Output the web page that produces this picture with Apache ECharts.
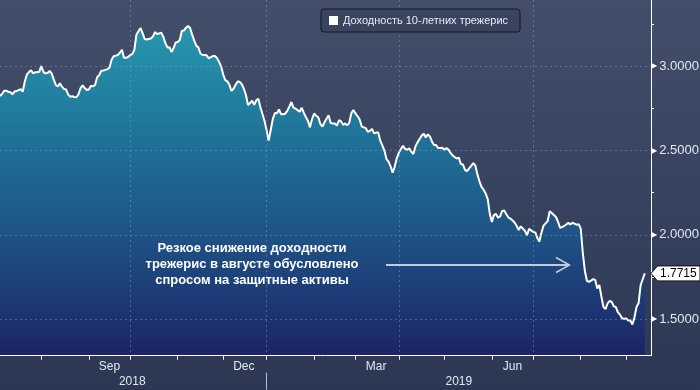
<!DOCTYPE html>
<html><head><meta charset="utf-8">
<script src="https://cdn.jsdelivr.net/npm/echarts@6/dist/echarts.min.js"></script>
<style>html,body{margin:0;padding:0;background:#333e5b;}#c{width:700px;height:390px;}</style>
</head><body><div id="c"></div>
<script>
const seriesName = 'Доходность 10-летних трежерис';
const startDate = '2018-07-04';
const endDate = '2019-09-18';
const yields = [
2.824,2.836,2.855,2.855,2.849,2.846,2.834,2.850,2.853,2.859,
2.865,2.849,2.910,2.951,2.966,2.976,2.959,2.964,2.965,2.968,
3.002,2.967,2.958,2.960,2.972,2.958,2.922,2.889,2.881,2.899,
2.879,2.865,2.862,2.832,2.820,2.822,2.818,2.817,2.834,2.871,
2.887,2.871,2.859,2.862,2.884,2.881,2.889,2.935,2.948,2.973,
2.975,2.979,2.983,2.993,3.039,3.060,3.063,3.067,3.080,3.098,
3.051,3.051,3.055,3.067,3.072,3.097,3.187,3.208,3.227,3.197,
3.162,3.159,3.162,3.165,3.177,3.203,3.192,3.195,3.199,3.176,
3.138,3.112,3.113,3.085,3.109,3.141,3.144,3.156,3.211,3.212,
3.229,3.239,3.227,3.186,3.152,3.121,3.112,3.076,3.067,3.067,
3.065,3.047,3.054,3.061,3.061,3.049,3.026,2.999,2.951,2.918,
2.911,2.890,2.854,2.867,2.890,2.910,2.908,2.894,2.867,2.830,
2.770,2.782,2.796,2.772,2.798,2.808,2.757,2.717,2.676,2.622,
2.559,2.622,2.687,2.723,2.721,2.744,2.715,2.716,2.719,2.736,
2.761,2.788,2.755,2.749,2.740,2.730,2.754,2.724,2.699,2.676,
2.638,2.687,2.720,2.707,2.698,2.658,2.642,2.668,2.689,2.710,
2.664,2.660,2.661,2.648,2.680,2.674,2.653,2.661,2.650,2.665,
2.722,2.741,2.720,2.705,2.685,2.644,2.638,2.633,2.612,2.617,
2.629,2.602,2.607,2.608,2.559,2.531,2.500,2.450,2.434,2.406,
2.369,2.406,2.456,2.487,2.509,2.529,2.510,2.505,2.513,2.494,
2.480,2.524,2.548,2.569,2.588,2.601,2.578,2.596,2.584,2.554,
2.533,2.533,2.515,2.515,2.517,2.505,2.515,2.506,2.486,2.472,
2.461,2.453,2.458,2.420,2.418,2.385,2.379,2.394,2.410,2.425,
2.412,2.359,2.318,2.285,2.268,2.245,2.212,2.125,2.076,2.119,
2.124,2.102,2.110,2.142,2.145,2.122,2.103,2.097,2.085,2.073,
2.053,2.029,2.051,2.037,2.024,1.998,2.036,2.027,2.018,2.015,
1.982,1.960,2.014,2.055,2.068,2.082,2.141,2.130,2.118,2.106,
2.078,2.042,2.046,2.053,2.062,2.072,2.062,2.072,2.067,2.059,
2.064,2.038,1.893,1.786,1.727,1.722,1.729,1.738,1.733,1.682,
1.703,1.634,1.572,1.560,1.594,1.608,1.602,1.577,1.572,1.541,
1.527,1.506,1.502,1.504,1.492,1.492,1.469,1.510,1.572,1.596,
1.703,1.737,1.7715
];
const monthTickLabels = ['Sep','Dec','Mar','Jun'];
const monthNames = ['Jan','Feb','Mar','Apr','May','Jun','Jul','Aug','Sep','Oct','Nov','Dec'];
const yearTickLabels = ['2018','2019'];
const quarterMonths = [0,3,6,9];
const yAxisMin = 1.2835, yAxisMax = 3.3932;
const yTickMin = 1.5, yTickMax = 3.5, yTickStep = 0.5;
const annotationLines = ['Резкое снижение доходности','трежерис в августе обусловлено','спросом на защитные активы'];

// weekday calendar
function weekdays(a, b) {
  const out = [];
  let d = new Date(a + 'T00:00:00Z');
  const e = new Date(b + 'T00:00:00Z');
  while (d <= e) {
    const w = d.getUTCDay();
    if (w !== 0 && w !== 6) out.push(d.toISOString().slice(0, 10));
    d = new Date(d.getTime() + 86400000);
  }
  return out;
}
const dates = weekdays(startDate, endDate);
const mon = s => +s.slice(5, 7) - 1, yr = s => s.slice(0, 4);
const monthStart = new Set(), quarterStart = new Set(), yearStart = new Set();
const monthLabelAt = {}, yearLabelAt = {};
const starts = [];
for (let i = 1; i < dates.length; i++) {
  if (mon(dates[i]) !== mon(dates[i - 1])) {
    monthStart.add(i); starts.push(i);
    if (quarterMonths.includes(mon(dates[i]))) quarterStart.add(i);
    if (yr(dates[i]) !== yr(dates[i - 1])) yearStart.add(i);
  }
}
for (let j = 0; j < starts.length - 1; j++) {
  const a = starts[j], b = starts[j + 1];
  const name = monthNames[mon(dates[a])];
  if (monthTickLabels.includes(name)) monthLabelAt[Math.floor((a + b) / 2)] = name;
}
const yearRange = {};
dates.forEach((d, i) => { const y = yr(d); if (!yearRange[y]) yearRange[y] = [i, i]; yearRange[y][1] = i; });
yearTickLabels.forEach(y => { const r = yearRange[y]; if (r) yearLabelAt[Math.floor((r[0] + r[1] + 1) / 2)] = y; });

const W = 700, H = 390;
const gridA = { left: 0, right: 49, top: 0, bottom: 34.3 };
const plotH = H - gridA.top - gridA.bottom;
const k = plotH / (yAxisMax - yAxisMin);
const gridB = { left: 0, right: 49, top: gridA.top - (yTickMax - yAxisMax) * k, bottom: H - (gridA.top + (yAxisMax - yTickMin) * k) };

const gridColor = 'rgba(140,160,205,0.45)';
const labelColor = '#e4e8f0';
const chart = echarts.init(document.getElementById('c'), null, { renderer: 'canvas' });
chart.setOption({
  animation: false,
  backgroundColor: new echarts.graphic.LinearGradient(0, 0, 0, 1, [
    { offset: 0, color: '#434e6b' }, { offset: 1, color: '#2b3753' }]),
  textStyle: { fontFamily: 'Liberation Sans' },
  legend: {
    data: [seriesName], left: 321, top: 9, icon: 'rect', itemWidth: 9, itemHeight: 9,
    padding: [6, 12, 6, 8], backgroundColor: '#39445f', borderColor: '#12161f', borderWidth: 1, borderRadius: 3,
    textStyle: { color: '#e8ebf2', fontSize: 11, fontFamily: 'Liberation Sans' }
  },
  grid: [Object.assign({ outerBoundsMode: 'none', containLabel: false }, gridA),
         Object.assign({ outerBoundsMode: 'none', containLabel: false }, gridB)],
  xAxis: [
    { gridIndex: 0, type: 'category', data: dates, boundaryGap: false, z: 3,
      axisLine: { show: true, onZero: false, lineStyle: { color: '#ffffff', width: 1 } },
      axisTick: { show: true, interval: (i) => monthStart.has(i), length: 4, lineStyle: { color: '#ffffff' } },
      axisLabel: { interval: (i) => (i in monthLabelAt), formatter: (v, i) => monthLabelAt[i] || '',
        color: labelColor, fontSize: 12, margin: 5 },
      splitLine: { show: true, interval: (i) => quarterStart.has(i), lineStyle: { color: gridColor, width: 1, type: [2, 3] } } },
    { gridIndex: 0, type: 'category', data: dates, boundaryGap: false, position: 'bottom', offset: 17,
      axisLine: { show: false, onZero: false },
      axisTick: { show: true, interval: (i) => yearStart.has(i), length: 17, lineStyle: { color: '#b7bfd0' } },
      axisLabel: { interval: (i) => (i in yearLabelAt), formatter: (v, i) => yearLabelAt[i] || '',
        color: labelColor, fontSize: 12, margin: 3 },
      splitLine: { show: false } },
    { gridIndex: 1, type: 'value', show: false, min: 1, max: 2, axisLine: { onZero: false } }
  ],
  yAxis: [
    { gridIndex: 0, type: 'value', position: 'right', min: yAxisMin, max: yAxisMax, z: 3,
      axisLine: { show: true, onZero: false, lineStyle: { color: '#ffffff', width: 1 } },
      axisTick: { show: false }, axisLabel: { show: false }, splitLine: { show: false } },
    { gridIndex: 1, type: 'value', position: 'right', min: yTickMin, max: yTickMax, interval: yTickStep, z: 3,
      axisLine: { show: false, onZero: false }, axisTick: { show: false },
      minorTick: { show: true, splitNumber: 2, length: 3, lineStyle: { color: '#ffffff' } },
      axisLabel: { margin: 0,
        formatter: (v) => v < yTickMax ? '{t|▶}{v|' + v.toFixed(4) + '}' : '',
        rich: { t: { fontSize: 8, color: '#ffffff', fontFamily: 'DejaVu Sans' },
                v: { fontSize: 13, color: labelColor, fontFamily: 'Liberation Sans', padding: [0, 0, 0, 2] } } },
      splitLine: { show: true, lineStyle: { color: gridColor, width: 1, type: [2, 3] } } }
  ],
  series: [{
    name: seriesName, type: 'line', xAxisIndex: 0, yAxisIndex: 0, data: yields,
    symbol: 'none', color: '#ffffff', itemStyle: { color: '#ffffff' },
    lineStyle: { color: '#ffffff', width: 2 },
    areaStyle: { origin: 'start', opacity: 1,
      color: new echarts.graphic.LinearGradient(0, 0, 0, 1, [
        { offset: 0, color: '#2797b1' }, { offset: 0.12, color: '#238aa5' },
        { offset: 0.38, color: '#1f6e95' }, { offset: 0.63, color: '#1e5386' },
        { offset: 0.88, color: '#1d3371' }, { offset: 1, color: '#1c2464' }]) },
    z: 2
  }]
});

const lastIdx = yields.length - 1;
const lastPt = chart.convertToPixel({ xAxisIndex: 0, yAxisIndex: 0 }, [dates[lastIdx], yields[lastIdx]]);
const axisX = chart.convertToPixel({ xAxisIndex: 0 }, dates[dates.length - 1]);
const py = lastPt[1];
chart.setOption({
  graphic: [
    { type: 'text', x: 252, y: 240, z: 10,
      style: { text: annotationLines.join('\n'), align: 'center', verticalAlign: 'top',
        font: 'bold 13px "Liberation Sans"', fill: '#ffffff', lineHeight: 16 } },
    { type: 'line', z: 10, shape: { x1: 386, y1: 265, x2: 569, y2: 265 },
      style: { stroke: '#c3cadb', lineWidth: 2 } },
    { type: 'polyline', z: 10, shape: { points: [[556, 257.5], [569.5, 265], [556, 272.5]] },
      style: { stroke: '#c3cadb', lineWidth: 1.5, fill: null } },
    { type: 'polygon', z: 10,
      shape: { points: [[axisX, py], [axisX + 6.5, py - 7.5], [W, py - 7.5], [W, py + 7.5], [axisX + 6.5, py + 7.5]] },
      style: { fill: '#ffffff', stroke: '#111111', lineWidth: 1 } },
    { type: 'text', x: axisX + 9, y: py, z: 11,
      style: { text: yields[lastIdx].toFixed(4), align: 'left', verticalAlign: 'middle',
        font: '12px "Liberation Sans"', fill: '#000000' } }
  ]
});
</script></body></html>
